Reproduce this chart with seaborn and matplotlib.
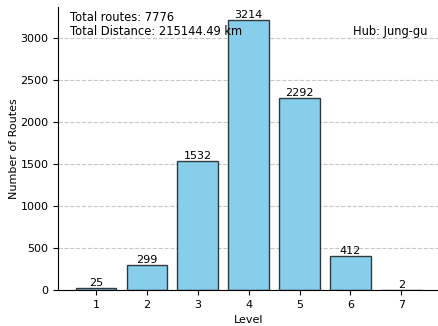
import pandas as pd
import matplotlib
matplotlib.use("Agg")
import matplotlib.pyplot as plt
import seaborn as sns

levels = [1, 2, 3, 4, 5, 6, 7]
routes = [25, 299, 1532, 3214, 2292, 412, 2]
total_routes = 7776
total_distance = 215144.49
hub = "Jung-gu"

sns.set_style("ticks", {'axes.edgecolor': 'black', 'text.color': 'black',
                        'xtick.color': 'black', 'ytick.color': 'black',
                        'axes.labelcolor': 'black'})
plt.rcParams['font.family'] = ['DejaVu Sans']

df = pd.DataFrame({'Level': levels, 'Routes': routes})

fig = plt.figure(figsize=(4.39, 3.26), dpi=100)
ax = fig.add_axes([0.133, 0.11, 0.867, 0.87])

sns.barplot(data=df, x='Level', y='Routes', color='skyblue', edgecolor='black',
            linewidth=1, width=0.8, saturation=1, ax=ax)
for p in ax.patches:
    p.set_edgecolor((0, 0, 0, 0.75))

for i, v in enumerate(routes):
    ax.text(i, v, str(v), ha='center', va='bottom', fontsize=8)

ax.set_xlim(-0.74, 6.74)
ax.set_ylim(0, max(routes) * 1.05)
ax.set_xlabel('Level', fontsize=8)
ax.set_ylabel('Number of Routes', fontsize=8, labelpad=1)
ax.tick_params(labelsize=8, length=3.5, width=0.8)
ax.yaxis.grid(True, linestyle='--', color='#b0b0b0', alpha=0.7, linewidth=0.8)
ax.set_axisbelow(True)
sns.despine(ax=ax)

ax.text(0.03, 0.985, f"Total routes: {total_routes}\nTotal Distance: {total_distance:.2f} km",
        transform=ax.transAxes, ha='left', va='top', fontsize=8.3, linespacing=1.1)
ax.text(0.97, 0.935, f"Hub: {hub}", transform=ax.transAxes, ha='right', va='top', fontsize=8.3)

fig.savefig('out.png', dpi=100)
